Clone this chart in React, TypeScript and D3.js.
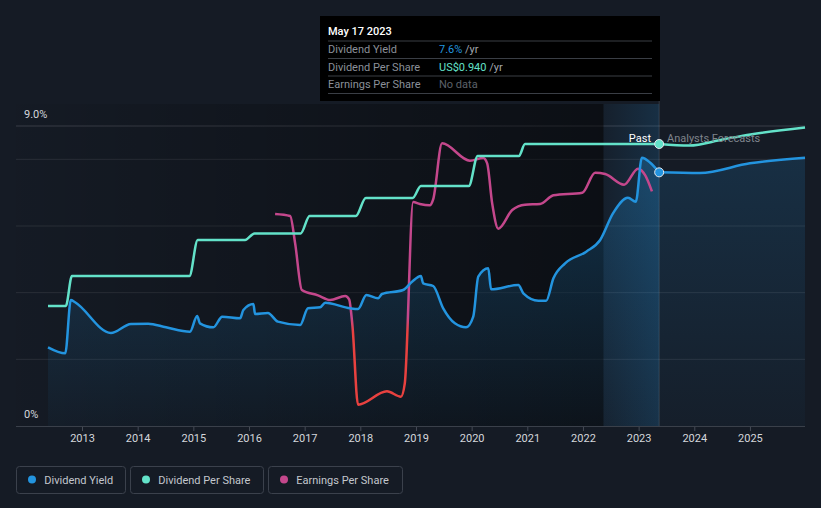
import React, { useEffect } from "react";
import * as d3 from "d3";

// ---- Data (decimal year, value) ----
const yieldPast: [number, number][] = [
  [2012.38, 2.36], [2012.69, 2.18], [2012.79, 3.78], [2012.86, 3.72],
  [2013.51, 2.79], [2013.87, 3.06], [2014.18, 3.07], [2014.5, 2.96],
  [2014.93, 2.83], [2015.06, 3.3], [2015.11, 3.08], [2015.35, 2.96],
  [2015.51, 3.28], [2015.83, 3.23], [2015.89, 3.48], [2016.07, 3.66],
  [2016.1, 3.36], [2016.33, 3.39], [2016.51, 3.13], [2016.91, 3.03],
  [2017.05, 3.53], [2017.27, 3.56], [2017.36, 3.7], [2017.81, 3.53],
  [2017.95, 3.51], [2018.1, 3.93], [2018.31, 3.83], [2018.38, 3.96],
  [2018.76, 4.08], [2018.92, 4.33], [2019.08, 4.5], [2019.12, 4.28],
  [2019.3, 4.2], [2019.48, 3.53], [2019.69, 3.08], [2019.89, 2.96],
  [2020.02, 3.28], [2020.11, 4.48], [2020.29, 4.73], [2020.34, 4.1],
  [2020.83, 4.23], [2020.92, 3.98], [2021.19, 3.76], [2021.33, 3.76],
  [2021.46, 4.43], [2021.67, 4.88], [2022.05, 5.23], [2022.3, 5.58],
  [2022.53, 6.38], [2022.8, 6.85], [2022.94, 6.73], [2023.05, 8.05],
  [2023.2, 7.9], [2023.36, 7.61],
];
const yieldForecast: [number, number][] = [
  [2023.36, 7.61], [2024.09, 7.59], [2024.99, 7.88], [2025.98, 8.05],
];

const dpsPast: [number, number][] = [
  [2012.38, 0.4], [2012.7, 0.4], [2012.81, 0.5], [2014.92, 0.5],
  [2015.07, 0.62], [2015.92, 0.62], [2016.09, 0.642], [2016.92, 0.642],
  [2017.08, 0.7], [2017.91, 0.7], [2018.09, 0.76], [2018.93, 0.76],
  [2019.08, 0.8], [2019.94, 0.8], [2020.1, 0.9], [2020.84, 0.9],
  [2020.95, 0.94], [2023.36, 0.94],
];
const dpsForecast: [number, number][] = [
  [2023.36, 0.94], [2023.9, 0.935], [2024.5, 0.955], [2025.0, 0.972], [2025.98, 0.995],
];

const epsPast: [number, number][] = [
  [2016.46, 0.84], [2016.73, 0.825], [2016.82, 0.62], [2016.94, 0.27],
  [2017.23, 0.23], [2017.45, 0.195], [2017.72, 0.225], [2017.79, 0.2],
  [2017.85, 0.0], [2017.95, -0.59], [2018.47, -0.49], [2018.72, -0.53],
  [2018.79, -0.43], [2018.94, 0.93], [2019.06, 0.915], [2019.24, 0.905],
  [2019.3, 0.95], [2019.46, 1.37], [2019.96, 1.24], [2020.2, 1.26],
  [2020.27, 1.22], [2020.36, 0.92], [2020.47, 0.73], [2020.72, 0.87],
  [2020.95, 0.91], [2021.22, 0.915], [2021.46, 0.98], [2021.98, 1.0],
  [2022.21, 1.15], [2022.39, 1.14], [2022.73, 1.06], [2022.98, 1.18],
  [2023.11, 1.13], [2023.23, 1.01],
];

const yearTicks = [2013, 2014, 2015, 2016, 2017, 2018, 2019, 2020, 2021, 2022, 2023, 2024, 2025];
const gridValues = [2, 4, 6, 8, 9];
const legendItems = ["Dividend Yield", "Dividend Per Share", "Earnings Per Share"];
const tooltipRows = [
  { label: "Dividend Yield", value: "7.6%", unit: " /yr" },
  { label: "Dividend Per Share", value: "US$0.940", unit: " /yr" },
  { label: "Earnings Per Share", value: "No data", unit: "" },
];
const tooltipTitle = "May 17 2023";
const presentDate = 2023.36;
const highlightStart = 2022.36;

const BG = "#151b25";
const C_YIELD = "#2394df";
const C_DPS = "#63e2c9";
const C_EPS = "#c4478c";
const C_NEG = "#e8413f";

export default function App() {
  useEffect(() => {
    document.body.style.margin = "0";
    document.body.style.background = BG;
  }, []);

  const x = d3.scaleLinear().domain([2012.38, 2025.98]).range([48, 805]);
  const yY = d3.scaleLinear().domain([0, 9]).range([426, 126]);
  const yD = d3.scaleLinear().domain([0, 1]).range([426, 126]);
  const yE = d3.scaleLinear().domain([-0.75, 1.5]).range([426, 126]);

  const lineYield = d3.line<[number, number]>().x((d) => x(d[0])).y((d) => yY(d[1])).curve(d3.curveMonotoneX);
  const areaYield = d3.area<[number, number]>().x((d) => x(d[0])).y0(426).y1((d) => yY(d[1])).curve(d3.curveMonotoneX);
  const lineDps = d3.line<[number, number]>().x((d) => x(d[0])).y((d) => yD(d[1])).curve(d3.curveMonotoneX);
  const lineEps = d3.line<[number, number]>().x((d) => x(d[0])).y((d) => yE(d[1])).curve(d3.curveMonotoneX);

  const px = x(presentDate);
  const hx = x(highlightStart);
  const zeroOff = (yE(0) - 126) / 300;
  const shadeTop = 104;

  const legendX = [16.5, 130.5, 268.5];
  const legendW = [109, 133, 134];
  const legendColors = [C_YIELD, C_DPS, C_EPS];

  return (
    <svg width={821} height={508} style={{ position: "absolute", left: 0, top: 0, display: "block" }} fontFamily="Roboto, sans-serif">
      <defs>
        <linearGradient id="pastShade" gradientUnits="userSpaceOnUse" x1={16} y1={0} x2={hx} y2={0}>
          <stop offset="0" stopColor="#000" stopOpacity={0.02} />
          <stop offset="1" stopColor="#000" stopOpacity={0.45} />
        </linearGradient>
        <linearGradient id="hl" gradientUnits="userSpaceOnUse" x1={hx} y1={0} x2={px} y2={0}>
          <stop offset="0" stopColor={C_YIELD} stopOpacity={0.04} />
          <stop offset="1" stopColor={C_YIELD} stopOpacity={0.17} />
        </linearGradient>
        <linearGradient id="areaPast" gradientUnits="userSpaceOnUse" x1={0} y1={126} x2={0} y2={426}>
          <stop offset="0" stopColor={C_YIELD} stopOpacity={0.3} />
          <stop offset="1" stopColor={C_YIELD} stopOpacity={0.03} />
        </linearGradient>
        <linearGradient id="areaFc" gradientUnits="userSpaceOnUse" x1={0} y1={126} x2={0} y2={426}>
          <stop offset="0" stopColor={C_YIELD} stopOpacity={0.18} />
          <stop offset="1" stopColor={C_YIELD} stopOpacity={0.03} />
        </linearGradient>
        <linearGradient id="epsStroke" gradientUnits="userSpaceOnUse" x1={0} y1={126} x2={0} y2={426}>
          <stop offset={zeroOff - 0.03} stopColor={C_EPS} />
          <stop offset={zeroOff + 0.02} stopColor={C_NEG} />
        </linearGradient>
      </defs>

      <rect x={0} y={0} width={821} height={508} fill={BG} />

      {/* grid */}
      {gridValues.map((v) => (
        <line key={v} x1={16} x2={805} y1={yY(v)} y2={yY(v)} stroke={v === 9 ? "#3a3f49" : "#2b3039"} strokeWidth={1} />
      ))}

      {/* past shading and highlight */}
      <rect x={16} y={shadeTop} width={hx - 16} height={426 - shadeTop} fill="url(#pastShade)" />
      <rect x={hx} y={shadeTop} width={px - hx} height={426 - shadeTop} fill="url(#hl)" />

      {/* yield areas */}
      <path d={areaYield(yieldPast) || ""} fill="url(#areaPast)" />
      <path d={areaYield(yieldForecast) || ""} fill="url(#areaFc)" />

      {/* present line */}
      <line x1={px} x2={px} y1={101} y2={426} stroke="rgba(255,255,255,0.13)" strokeWidth={1} />

      {/* axis */}
      <line x1={16} x2={805} y1={426.5} y2={426.5} stroke="#3a404a" strokeWidth={1} />
      {yearTicks.map((t) => (
        <g key={t}>
          <line x1={x(t)} x2={x(t)} y1={427} y2={431} stroke="#454b56" strokeWidth={1} />
          <text x={x(t)} y={442} textAnchor="middle" fontSize={11} fill="#d4d7dc">{t}</text>
        </g>
      ))}

      {/* y labels */}
      <text x={24} y={118} fontSize={11} fill="#d4d7dc">9.0%</text>
      <text x={24} y={418} fontSize={11} fill="#d4d7dc">0%</text>

      {/* lines */}
      <path d={lineEps(epsPast) || ""} fill="none" stroke="url(#epsStroke)" strokeWidth={2.5} />
      <path d={lineDps(dpsPast) || ""} fill="none" stroke={C_DPS} strokeWidth={2.5} />
      <path d={lineDps(dpsForecast) || ""} fill="none" stroke={C_DPS} strokeWidth={2.5} />
      <path d={lineYield(yieldPast) || ""} fill="none" stroke={C_YIELD} strokeWidth={2.5} />
      <path d={lineYield(yieldForecast) || ""} fill="none" stroke={C_YIELD} strokeWidth={2.5} />

      {/* past / forecast labels */}
      <text x={651} y={142} textAnchor="end" fontSize={11} fill="#ffffff">Past</text>
      <text x={667} y={142} fontSize={11} fill="#7f848c">Analysts Forecasts</text>

      {/* markers */}
      <circle cx={px} cy={yD(0.94)} r={4.5} fill={C_DPS} stroke="#e6e9ee" strokeWidth={1} />
      <circle cx={px} cy={yY(7.61)} r={4.5} fill={C_YIELD} stroke="#e6e9ee" strokeWidth={1} />

      {/* tooltip */}
      <rect x={320} y={16} width={340} height={85} fill="#000" />
      <text x={328} y={35} fontSize={11} fill="#ffffff" fontWeight={500}>{tooltipTitle}</text>
      {[41, 58.5, 76, 93.5].map((yy) => (
        <line key={yy} x1={328} x2={652} y1={yy} y2={yy} stroke="#3a3e45" strokeWidth={1} />
      ))}
      {tooltipRows.map((r, i) => (
        <g key={r.label}>
          <text x={328} y={53 + i * 17.5} fontSize={11} fill="#8b9099">{r.label}</text>
          <text x={439} y={53 + i * 17.5} fontSize={11}>
            <tspan fill={i === 0 ? C_YIELD : i === 1 ? C_DPS : "#5d626a"}>{r.value}</tspan>
            <tspan fill="#a3a7ae">{r.unit}</tspan>
          </text>
        </g>
      ))}

      {/* legend */}
      {legendItems.map((name, i) => (
        <g key={name}>
          <rect x={legendX[i]} y={466.5} width={legendW[i]} height={27} rx={3} fill="none" stroke="#3b414c" strokeWidth={1} />
          <circle cx={legendX[i] + 15.5} cy={479.5} r={4} fill={legendColors[i]} />
          <text x={legendX[i] + 27.8} y={483.5} fontSize={11} fill="#c3c7cd">{name}</text>
        </g>
      ))}
    </svg>
  );
}
